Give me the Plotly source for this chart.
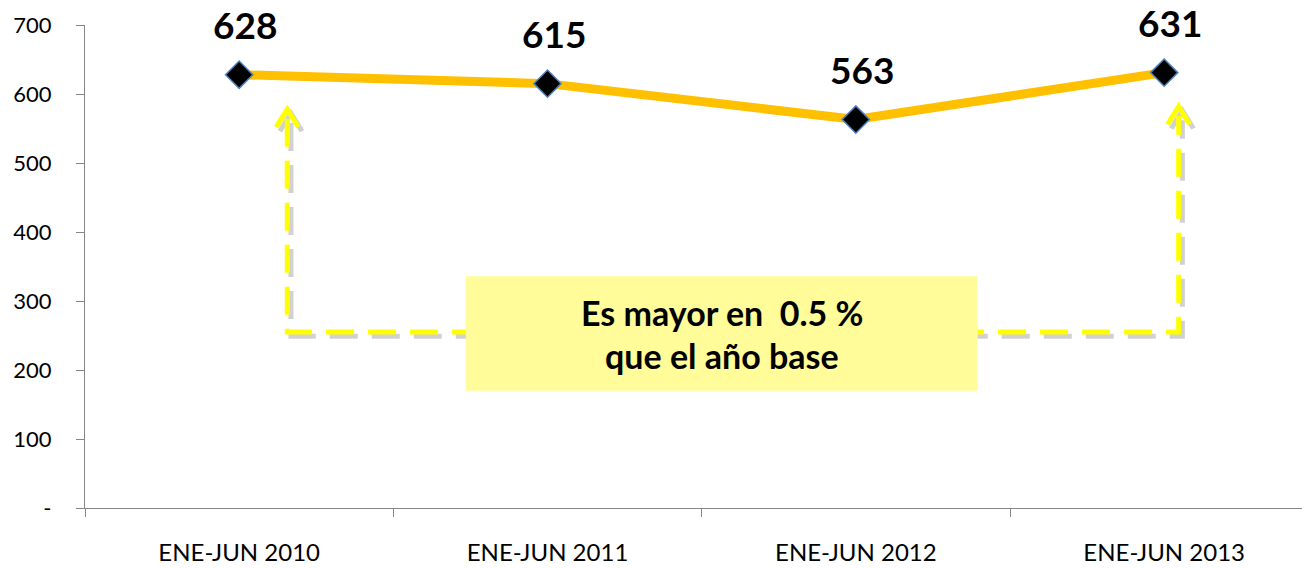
import plotly.graph_objects as go

categories = ["ENE-JUN 2010", "ENE-JUN 2011", "ENE-JUN 2012", "ENE-JUN 2013"]
values = [628, 615, 563, 631]
y_ticks = [0, 100, 200, 300, 400, 500, 600, 700]
y_tick_labels = ["-", "100", "200", "300", "400", "500", "600", "700"]
note_lines = ["Es mayor en&nbsp;&nbsp;0.5 %", "que el año base"]

FONT = "Lato"
AXIS = "#868686"

fig = go.Figure()
fig.add_trace(go.Scatter(
    x=categories, y=values, mode="lines+markers",
    line=dict(color="#FFC000", width=9),
    marker=dict(symbol="diamond", size=21, color="black",
                line=dict(color="#4F81BD", width=1.5)),
    hoverinfo="skip", showlegend=False,
))

for c, v in zip(categories, values):
    fig.add_annotation(x=c, y=v, text=f"<b>{v}</b>", showarrow=False,
                       xshift=6, yshift=50,
                       font=dict(family=FONT, size=37, color="black"))

# connector (dashed yellow with shadow)
xl, xr, yb = 0.156, 3.047, 255
ytl, ytr = 578, 582
dx_s, dy_s = 0.012, -6
def conn_path(ox=0.0, oy=0.0):
    return (f"M {xl+ox},{ytl-14+oy} L {xl+ox},{yb+oy} L {xr+ox},{yb+oy} L {xr+ox},{ytr-14+oy}")
def head_path(x, yt, ox=0.0, oy=0.0):
    return (f"M {x-0.036+ox},{yt-26+oy} L {x+ox},{yt+oy} L {x+0.036+ox},{yt-26+oy}")

fig.add_shape(type="path", path=conn_path(dx_s, dy_s), xref="x", yref="y",
              line=dict(color="rgba(0,0,0,0.18)", width=5, dash="28px,14px"), layer="below")
fig.add_shape(type="path", path=head_path(xl, ytl, dx_s, dy_s), xref="x", yref="y",
              line=dict(color="rgba(0,0,0,0.18)", width=5), layer="below")
fig.add_shape(type="path", path=head_path(xr, ytr, dx_s, dy_s), xref="x", yref="y",
              line=dict(color="rgba(0,0,0,0.18)", width=5), layer="below")
fig.add_shape(type="path", path=conn_path(), xref="x", yref="y",
              line=dict(color="#FFFF00", width=5, dash="28px,14px"), layer="below")
fig.add_shape(type="path", path=head_path(xl, ytl), xref="x", yref="y",
              line=dict(color="#FFFF00", width=5), layer="below")
fig.add_shape(type="path", path=head_path(xr, ytr), xref="x", yref="y",
              line=dict(color="#FFFF00", width=5), layer="below")

# note box
fig.add_shape(type="rect", x0=0.735, x1=2.395, y0=170, y1=336, xref="x", yref="y",
              fillcolor="#FFFC99", line=dict(width=0), layer="below")
fig.add_annotation(x=1.565, y=253, text=f"<b>{note_lines[0]}</b>", showarrow=False,
                   yshift=21, font=dict(family=FONT, size=34, color="black"))
fig.add_annotation(x=1.565, y=253, text=f"<b>{note_lines[1]}</b>", showarrow=False,
                   yshift=-22, font=dict(family=FONT, size=34, color="black"))

fig.update_layout(
    width=1302, height=568,
    margin=dict(l=85, r=0, t=25, b=60, autoexpand=False),
    paper_bgcolor="white", plot_bgcolor="white",
    font=dict(family=FONT, size=22, color="black"),
    showlegend=False,
)
fig.update_xaxes(type="category", range=[-0.5, 3.447], tickson="boundaries",
                 showline=True, linecolor=AXIS, linewidth=1.3,
                 ticks="outside", ticklen=8, tickcolor=AXIS, tickwidth=1.3,
                 showgrid=False, zeroline=False, ticklabelstandoff=23,
                 automargin=False, tickfont=dict(family=FONT, size=24))
fig.update_yaxes(range=[0, 700], tickvals=y_ticks, ticktext=y_tick_labels,
                 showline=True, linecolor=AXIS, linewidth=1.3,
                 ticks="outside", ticklen=8, tickcolor=AXIS, tickwidth=1.3,
                 showgrid=False, zeroline=False, ticklabelstandoff=20,
                 automargin=False, tickfont=dict(family=FONT, size=22))

fig.write_html("out.html", config={"displayModeBar": False},
               post_script="document.body.style.margin='0';document.body.style.overflow='hidden';")
